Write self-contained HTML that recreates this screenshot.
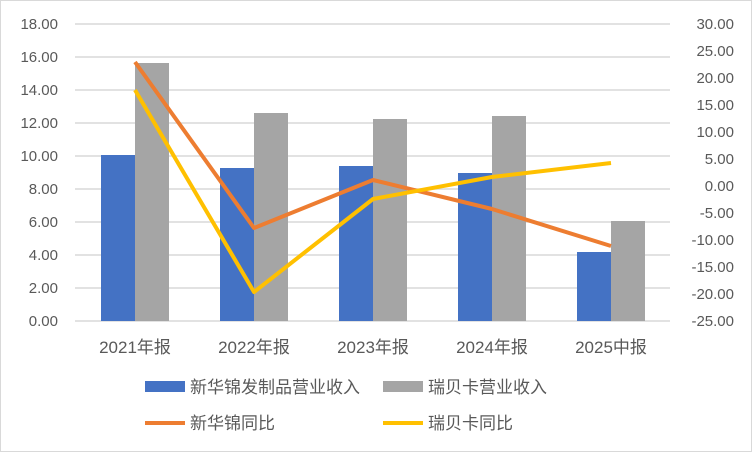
<!DOCTYPE html>
<html><head><meta charset="utf-8"><style>
body{margin:0;background:#fff}
svg text{font-family:"Liberation Sans","Noto Sans CJK SC",sans-serif;fill:#595959}
</style></head><body>
<svg width="752" height="452" xmlns="http://www.w3.org/2000/svg">
<rect x="0.5" y="0.5" width="751" height="451" fill="#fff" stroke="#d9d9d9"/>
<g stroke="#d9d9d9" stroke-width="1.5">
<line x1="75" x2="670" y1="24" y2="24"/><line x1="75" x2="670" y1="57" y2="57"/>
<line x1="75" x2="670" y1="90" y2="90"/><line x1="75" x2="670" y1="123" y2="123"/>
<line x1="75" x2="670" y1="156" y2="156"/><line x1="75" x2="670" y1="189" y2="189"/>
<line x1="75" x2="670" y1="222" y2="222"/><line x1="75" x2="670" y1="255" y2="255"/>
<line x1="75" x2="670" y1="288" y2="288"/><line x1="75" x2="670" y1="321" y2="321"/>
</g>
<g fill="#4472c4">
<rect x="101" y="155" width="34" height="166"/><rect x="220" y="168" width="34" height="153"/>
<rect x="339" y="166" width="34" height="155"/><rect x="458" y="173" width="34" height="148"/>
<rect x="577" y="252" width="34" height="69"/>
</g>
<g fill="#a5a5a5">
<rect x="135" y="63" width="34" height="258"/><rect x="254" y="113" width="34" height="208"/>
<rect x="373" y="119" width="34" height="202"/><rect x="492" y="116" width="34" height="205"/>
<rect x="611" y="221" width="34" height="100"/>
</g>
<polyline points="135,62 254,228 373,180 492,209 611,246" fill="none" stroke="#ed7d31" stroke-width="4" stroke-linejoin="round"/>
<polyline points="135,90 254,292 373,199 492,177 611,163" fill="none" stroke="#ffc000" stroke-width="4" stroke-linejoin="round"/>
<g font-size="15" text-anchor="end">
<text x="58" y="29">18.00</text><text x="58" y="62">16.00</text><text x="58" y="95">14.00</text>
<text x="58" y="128">12.00</text><text x="58" y="161">10.00</text><text x="58" y="194">8.00</text>
<text x="58" y="227">6.00</text><text x="58" y="260">4.00</text><text x="58" y="293">2.00</text>
<text x="58" y="326">0.00</text>
</g>
<g font-size="15" text-anchor="end">
<text x="734" y="29">30.00</text><text x="734" y="56">25.00</text><text x="734" y="83">20.00</text>
<text x="734" y="110">15.00</text><text x="734" y="137">10.00</text><text x="734" y="164">5.00</text>
<text x="734" y="191">0.00</text><text x="734" y="218">-5.00</text><text x="734" y="245">-10.00</text>
<text x="734" y="272">-15.00</text><text x="734" y="299">-20.00</text><text x="734" y="326">-25.00</text>
</g>
<g font-size="17" text-anchor="middle">
<text x="135" y="353">2021年报</text><text x="254" y="353">2022年报</text><text x="373" y="353">2023年报</text>
<text x="492" y="353">2024年报</text><text x="611" y="353">2025中报</text>
</g>
<g font-size="17">
<rect x="145" y="381" width="40" height="11" fill="#4472c4"/>
<text x="190" y="393">新华锦发制品营业收入</text>
<rect x="383" y="381" width="40" height="11" fill="#a5a5a5"/>
<text x="428" y="393">瑞贝卡营业收入</text>
<line x1="145" x2="185" y1="423" y2="423" stroke="#ed7d31" stroke-width="4"/>
<text x="190" y="429">新华锦同比</text>
<line x1="383" x2="423" y1="423" y2="423" stroke="#ffc000" stroke-width="4"/>
<text x="428" y="429">瑞贝卡同比</text>
</g>
</svg>
</body></html>
